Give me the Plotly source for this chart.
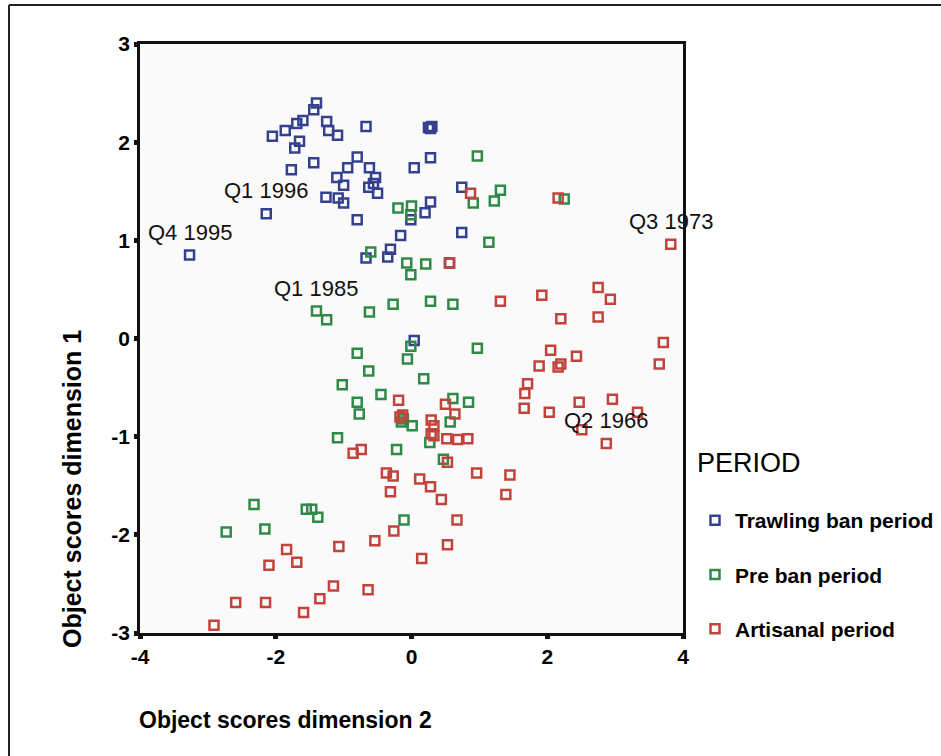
import plotly.graph_objects as go

# Object scores (dimension 2 on x, dimension 1 on y) for each quarter, by period
trawl_x = [-1.40, -1.44, -1.60, -1.69, -1.86, -2.05, -1.65, -1.72, -1.77, -1.44,
           -1.25, -1.22, -1.09, -0.67, 0.25, 0.30, 0.28, 0.28, 0.04, -0.80,
           -0.94, -0.62, -0.53, -1.10, -1.00, -0.63, -0.50, -0.56, -1.26, -1.08,
           -1.00, -0.80, -2.14, 0.28, 0.20, -0.01, -0.16, -0.31, -0.35, -0.67,
           -3.27, 0.74, 0.74, 0.56, 0.04]
trawl_y = [2.40, 2.33, 2.22, 2.19, 2.12, 2.06, 2.01, 1.94, 1.72, 1.79,
           2.21, 2.12, 2.07, 2.16, 2.15, 2.16, 2.14, 1.84, 1.74, 1.85,
           1.74, 1.74, 1.64, 1.64, 1.56, 1.54, 1.48, 1.58, 1.44, 1.43,
           1.38, 1.21, 1.27, 1.39, 1.28, 1.21, 1.05, 0.91, 0.83, 0.82,
           0.85, 1.54, 1.08, 0.77, -0.02]

preban_x = [-0.20, 0.00, -0.01, -0.60, -0.07, -0.01, 0.21, 0.97, 1.31, 1.22,
            0.91, 1.14, 2.25, -1.40, -1.25, -0.62, -0.27, 0.28, 0.61, -0.01,
            -0.06, -0.80, -0.63, -1.02, -0.45, 0.18, -0.80, -0.77, -0.15, -0.12,
            0.01, -1.09, -0.22, 0.27, 0.57, 0.61, 0.84, 0.47, 0.97, -2.32,
            -2.73, -2.16, -1.55, -1.47, -1.38, -0.11]
preban_y = [1.33, 1.35, 1.26, 0.88, 0.77, 0.65, 0.76, 1.86, 1.51, 1.40,
            1.38, 0.98, 1.42, 0.28, 0.19, 0.27, 0.35, 0.38, 0.35, -0.08,
            -0.21, -0.15, -0.33, -0.47, -0.57, -0.41, -0.65, -0.77, -0.85, -0.82,
            -0.89, -1.01, -1.13, -1.06, -0.85, -0.61, -0.65, -1.23, -0.10, -1.69,
            -1.97, -1.94, -1.74, -1.74, -1.82, -1.85]

artisanal_x = [0.87, 2.16, 3.82, 0.56, 1.31, 1.92, 2.75, 2.93, 2.75, 2.20,
               3.71, 3.65, 2.05, 2.43, 1.88, 2.20, 2.16, 1.71, 1.67, 1.66,
               2.03, 2.47, 2.96, 3.33, 2.51, 2.87, 0.50, 0.64, -0.19, -0.13,
               -0.17, 0.29, 0.33, 0.29, 0.33, 0.52, 0.68, 0.83, -0.86, -0.74,
               -0.37, -0.27, 0.12, 0.53, 0.96, 1.45, 0.28, 0.44, -0.31, 1.39,
               0.67, -0.26, -0.54, -1.07, -1.84, -1.69, -2.10, 0.15, 0.53, -1.15,
               -1.35, -0.64, -1.59, -2.15, -2.59, -2.91]
artisanal_y = [1.48, 1.43, 0.96, 0.77, 0.38, 0.44, 0.52, 0.40, 0.22, 0.20,
               -0.04, -0.26, -0.12, -0.18, -0.28, -0.26, -0.29, -0.46, -0.56, -0.71,
               -0.75, -0.65, -0.62, -0.75, -0.93, -1.07, -0.67, -0.77, -0.63, -0.78,
               -0.80, -0.83, -0.89, -0.97, -0.99, -1.02, -1.03, -1.02, -1.17, -1.13,
               -1.37, -1.40, -1.43, -1.26, -1.37, -1.39, -1.51, -1.64, -1.56, -1.59,
               -1.85, -1.96, -2.06, -2.12, -2.15, -2.28, -2.31, -2.24, -2.10, -2.52,
               -2.65, -2.56, -2.79, -2.69, -2.69, -2.92]

# Labelled quarters
label_text = ["Q4 1995", "Q1 1996", "Q1 1985", "Q3 1973", "Q2 1966"]
label_x = [-3.27, -2.14, -1.40, 3.82, 2.87]
label_y = [0.85, 1.27, 0.28, 0.96, -1.07]

x_ticks = [-4, -2, 0, 2, 4]
x_ticktext = ["-4", "-2", "0", "2", "4"]
y_ticks = [-3, -2, -1, 0, 1, 2, 3]
y_ticktext = ["-3", "-2", "-1", "0", "1", "2", "3"]

series = [
    ("Trawling ban period", trawl_x, trawl_y, "#34418f"),
    ("Pre ban period", preban_x, preban_y, "#2f8a47"),
    ("Artisanal period", artisanal_x, artisanal_y, "#c2433c"),
]

fig = go.Figure()
for i, (name, xs, ys, col) in enumerate(series):
    fig.add_trace(go.Scatter(
        x=xs, y=ys, mode="markers", name=name, legendgroup=f"g{i}",
        marker=dict(symbol="square-open", size=9, color=col, line=dict(width=2.5, color=col)),
    ))

FONT = "Liberation Sans, Arial, sans-serif"

annotations = []
for t, lx, ly in zip(label_text, label_x, label_y):
    annotations.append(dict(x=lx, y=ly, xref="x", yref="y", text=t, showarrow=False,
                            xanchor="center", yshift=23,
                            font=dict(family=FONT, size=22, color="#111")))

# Axis titles and legend heading
annotations.append(dict(x=(285 - 140) / 543, y=(633 - 720) / 589, xref="paper", yref="paper",
                        text="<b>Object scores dimension 2</b>", showarrow=False,
                        xanchor="center", yanchor="middle",
                        font=dict(family=FONT, size=23, color="#000")))
annotations.append(dict(x=(72 - 140) / 543, y=(633 - 489) / 589, xref="paper", yref="paper",
                        text="<b>Object scores dimension 1</b>", showarrow=False, textangle=-90,
                        xanchor="center", yanchor="middle",
                        font=dict(family=FONT, size=25, color="#000")))
annotations.append(dict(x=(695 - 140) / 543, y=(633 - 463) / 589, xref="paper", yref="paper",
                        text="PERIOD", showarrow=False, xanchor="left", yanchor="middle",
                        font=dict(family=FONT, size=27, color="#000")))

# Outer frame (top and left edges)
shapes = [
    dict(type="line", xref="paper", yref="paper",
         x0=(9 - 140) / 543, x1=(941 - 140) / 543, y0=(633 - 5) / 589, y1=(633 - 5) / 589,
         line=dict(color="#222", width=2)),
    dict(type="line", xref="paper", yref="paper",
         x0=(9 - 140) / 543, x1=(9 - 140) / 543, y0=(633 - 5) / 589, y1=(633 - 756) / 589,
         line=dict(color="#222", width=2)),
]

axis_common = dict(showgrid=False, zeroline=False, showline=True, mirror=True,
                   linecolor="#111", linewidth=2.5, ticks="outside", ticklen=3,
                   tickwidth=5, tickcolor="#111", automargin=False,
                   tickfont=dict(family=FONT, size=21, color="#000", weight="bold"))

fig.update_layout(
    width=941, height=756,
    margin=dict(l=140, r=258, t=44, b=123, autoexpand=False),
    paper_bgcolor="white", plot_bgcolor="#fbfafa",
    xaxis=dict(range=[-4, 4], tickvals=x_ticks, ticktext=x_ticktext, **axis_common),
    yaxis=dict(range=[-3, 3], tickvals=y_ticks, ticktext=y_ticktext, **axis_common),
    showlegend=True,
    legend=dict(x=(695 - 140) / 543, y=(633 - 500) / 589, xanchor="left", yanchor="top",
                bgcolor="rgba(0,0,0,0)", tracegroupgap=24,
                font=dict(family=FONT, size=21, color="#000", weight="bold")),
    annotations=annotations,
    shapes=shapes,
)

fig.write_html("out.html")
